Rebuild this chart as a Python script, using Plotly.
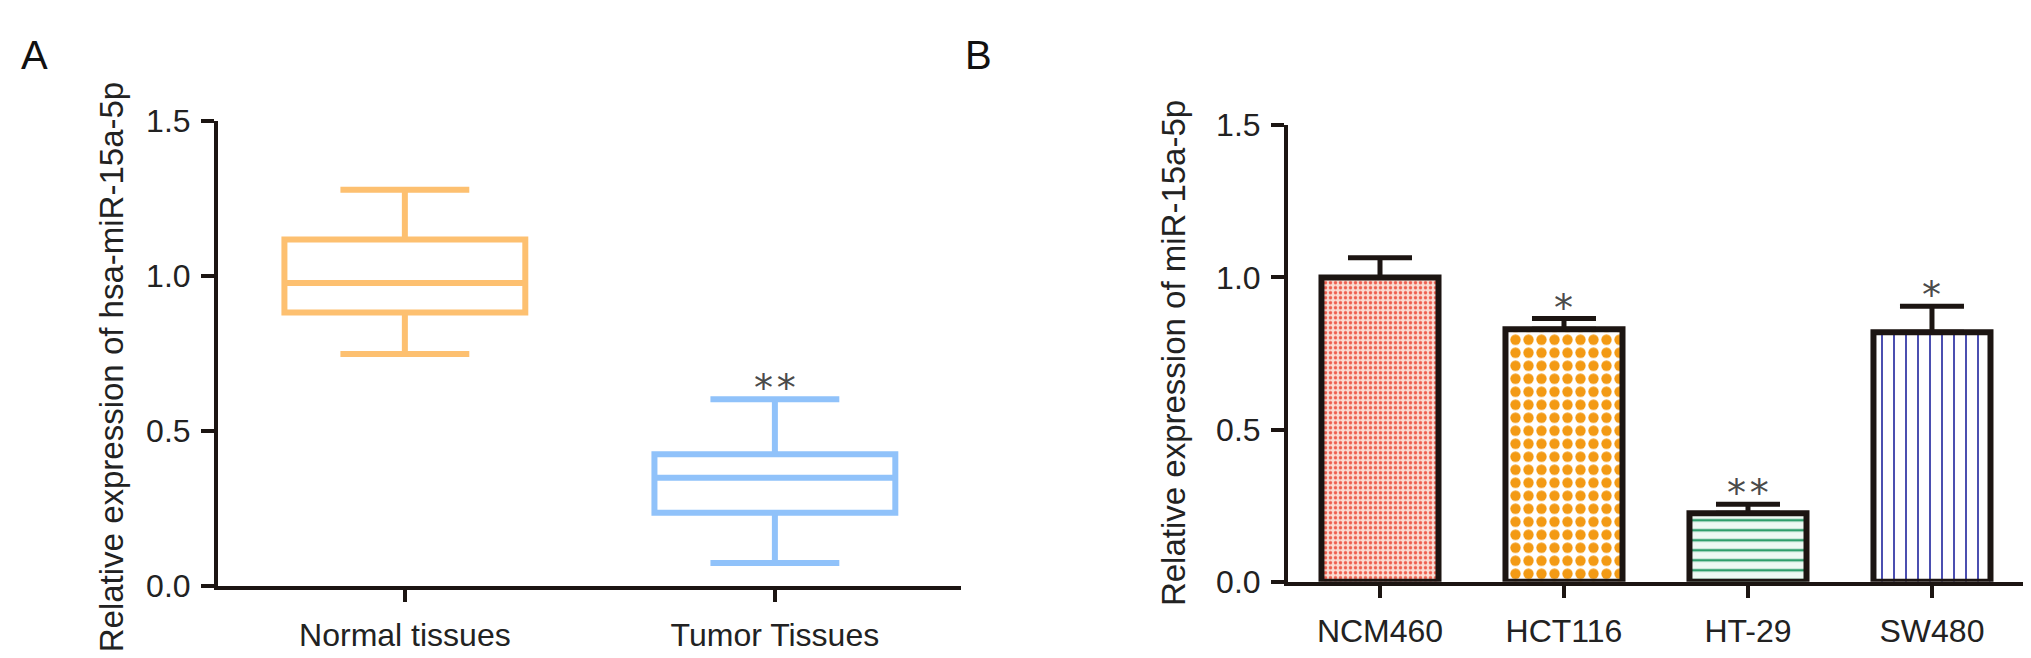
import plotly.graph_objects as go

# Panel A: box summaries
tissues = ["Normal tissues", "Tumor Tissues"]
box_low = [0.747, 0.073]
box_q1 = [0.881, 0.235]
box_median = [0.976, 0.348]
box_q3 = [1.116, 0.424]
box_high = [1.277, 0.601]
box_colors = ["#FDC070", "#90C2FA"]
stars_a = ["", "**"]

# Panel B: mean and upper error of each cell line
cell_lines = ["NCM460", "HCT116", "HT-29", "SW480"]
expression = [1.0, 0.83, 0.225, 0.82]
error_up = [0.065, 0.035, 0.03, 0.085]
stars_b = ["", "*", "**", "*"]

yticks = [0, 0.5, 1.0, 1.5]

W, H = 2031, 658
font_main = "Liberation Sans, Arial, sans-serif"
ink = "#1c1512"

fig = go.Figure()

for i, name in enumerate(tissues):
    fig.add_trace(go.Box(
        x=[name], q1=[box_q1[i]], median=[box_median[i]], q3=[box_q3[i]],
        lowerfence=[box_low[i]], upperfence=[box_high[i]],
        width=0.651, whiskerwidth=0.535, boxpoints=False,
        line=dict(color=box_colors[i], width=6), fillcolor="white",
        xaxis="x", yaxis="y", showlegend=False))

fig.add_trace(go.Bar(
    x=cell_lines, y=expression, width=0.636,
    marker=dict(
        color="white",
        line=dict(color=ink, width=6),
        pattern=dict(
            shape=[".", ".", "-", "|"],
            fgcolor=["#EE5E4E", "#F39A14", "#2F9E6B", "#4B4FB0"],
            bgcolor=["#FADCD2", "white", "#EEF9F3", "white"],
            size=[5, 13, 10, 12],
            solidity=[0.35, 0.5, 0.25, 0.17],
            fillmode="replace")),
    error_y=dict(type="data", symmetric=False, array=error_up,
                 arrayminus=[0] * len(error_up), color=ink,
                 thickness=5, width=32),
    xaxis="x2", yaxis="y2", showlegend=False))

axis_common = dict(showline=True, linewidth=4, linecolor=ink, ticks="outside",
                   tickwidth=4, tickcolor=ink, showgrid=False, zeroline=False,
                   tickfont=dict(family=font_main, size=32, color="#222"))

fig.update_layout(
    width=W, height=H, margin=dict(l=0, r=0, t=0, b=0),
    plot_bgcolor="white", paper_bgcolor="white", boxmode="overlay",
    xaxis=dict(domain=[210 / W, 953 / W], type="category", range=[-0.505, 1.503],
               ticklen=12, ticklabelstandoff=6, anchor="y", **axis_common),
    yaxis=dict(domain=[1 - 592 / H, 1 - 100 / H], range=[0, 1.5], tickvals=yticks,
               tickformat=".1f", ticklen=13, ticklabelstandoff=4, anchor="x",
               **axis_common),
    xaxis2=dict(domain=[1280 / W, 2018 / W], type="category", range=[-0.5, 3.511],
                ticklen=12, ticklabelstandoff=6, anchor="y2", **axis_common),
    yaxis2=dict(domain=[1 - 588 / H, 1 - 105 / H], range=[0, 1.5], tickvals=yticks,
                tickformat=".1f", ticklen=13, ticklabelstandoff=4, anchor="x2",
                **axis_common),
)

annotations = [
    dict(text="A", x=11 / W, y=1 - 5 / H, xref="paper", yref="paper",
         xanchor="left", yanchor="top", showarrow=False,
         font=dict(family=font_main, size=40, color="#111")),
    dict(text="B", x=955 / W, y=1 - 5 / H, xref="paper", yref="paper",
         xanchor="left", yanchor="top", showarrow=False,
         font=dict(family=font_main, size=40, color="#111")),
    dict(text="Relative expression of hsa-miR-15a-5p", textangle=-90,
         x=103 / W, y=1 - 361 / H, xref="paper", yref="paper",
         xanchor="center", yanchor="middle", showarrow=False,
         font=dict(family=font_main, size=33, color="#222")),
    dict(text="Relative expression of miR-15a-5p", textangle=-90,
         x=1165 / W, y=1 - 346 / H, xref="paper", yref="paper",
         xanchor="center", yanchor="middle", showarrow=False,
         font=dict(family=font_main, size=33, color="#222")),
]

star_font = dict(family="DejaVu Sans", size=38, color="#4a4a4a")
for name, top, s in zip(tissues, box_high, stars_a):
    if s:
        annotations.append(dict(text=s.replace("**", "*\u200a*"), x=name, y=top,
                                xref="x", yref="y", xanchor="center",
                                yanchor="bottom", yshift=-13, showarrow=False,
                                font=star_font))
for name, val, err, s in zip(cell_lines, expression, error_up, stars_b):
    if s:
        annotations.append(dict(text=s.replace("**", "*\u200a*"), x=name, y=val + err,
                                xref="x2", yref="y2", xanchor="center",
                                yanchor="bottom", yshift=-13, showarrow=False,
                                font=star_font))

fig.update_layout(annotations=annotations)

fig.write_html("out.html")
